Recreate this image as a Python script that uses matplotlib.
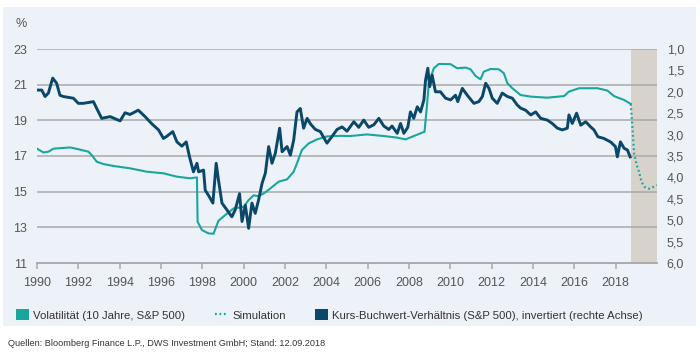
import matplotlib
matplotlib.use('Agg')
from matplotlib import pyplot as plt
from matplotlib.patches import Rectangle, Patch
from matplotlib.lines import Line2D

plt.rcParams['font.family'] = ['Liberation Sans', 'DejaVu Sans']

# Volatilitaet (10 Jahre, S&P 500), linke Achse in %
vol_years = [1990.0, 1990.31, 1990.55, 1990.79, 1991.6, 1992.0, 1992.49, 1992.65, 1992.89,
             1993.21, 1993.7, 1994.5, 1995.31, 1996.12, 1996.77, 1997.41, 1997.74, 1997.77,
             1997.98, 1998.3, 1998.54, 1998.67, 1998.78, 1999.11, 1999.51, 2000.0, 2000.24,
             2000.48, 2000.72, 2000.97, 2001.29, 2001.69, 2002.1, 2002.42, 2002.58, 2002.82,
             2003.15, 2003.55, 2004.03, 2004.68, 2005.16, 2005.97, 2006.78, 2007.43, 2007.83,
             2008.15, 2008.47, 2008.75, 2008.85, 2008.96, 2009.2, 2009.44, 2010.01, 2010.33,
             2010.74, 2010.98, 2011.22, 2011.46, 2011.62, 2011.95, 2012.35, 2012.59, 2012.76,
             2013.0, 2013.4, 2013.89, 2014.69, 2015.5, 2015.74, 2016.23, 2017.12, 2017.6,
             2017.92, 2018.41, 2018.73]
vol = [17.41, 17.2, 17.24, 17.41, 17.48, 17.38, 17.24, 17.05, 16.68,
       16.55, 16.44, 16.31, 16.12, 16.03, 15.84, 15.75, 15.8, 13.32,
       12.85, 12.66, 12.64, 13.03, 13.37, 13.69, 14.06, 14.15, 14.53,
       14.79, 14.75, 14.9, 15.18, 15.56, 15.69, 16.12, 16.59, 17.34,
       17.71, 17.93, 18.1, 18.13, 18.12, 18.21, 18.12, 18.03, 17.93,
       18.08, 18.23, 18.36, 19.58, 21.08, 21.92, 22.16, 22.15, 21.92,
       21.96, 21.86, 21.49, 21.3, 21.73, 21.88, 21.86, 21.64, 21.08,
       20.8, 20.42, 20.33, 20.27, 20.36, 20.61, 20.8, 20.8, 20.67,
       20.36, 20.14, 19.92]

# Simulation
sim_years = [2018.73, 2018.81, 2018.89, 2019.02, 2019.13, 2019.25, 2019.38, 2019.62, 2019.86, 2020.0]
sim = [19.92, 18.64, 17.15, 16.49, 16.12, 15.56, 15.28, 15.17, 15.28, 15.36]

# Kurs-Buchwert-Verhaeltnis (rechte Achse, invertiert)
kbv_years = [1990.0, 1990.23, 1990.39, 1990.55, 1990.76, 1990.95, 1991.11, 1991.27, 1991.76,
             1992.0, 1992.24, 1992.73, 1992.89, 1993.13, 1993.54, 1994.02, 1994.26, 1994.5,
             1994.9, 1995.23, 1995.56, 1995.88, 1996.12, 1996.28, 1996.57, 1996.77, 1997.01,
             1997.22, 1997.38, 1997.57, 1997.74, 1997.82, 1998.06, 1998.14, 1998.3, 1998.51,
             1998.67, 1998.78, 1998.95, 1999.19, 1999.43, 1999.59, 1999.8, 1999.92, 2000.08,
             2000.24, 2000.4, 2000.56, 2000.72, 2000.89, 2001.05, 2001.21, 2001.37, 2001.53,
             2001.74, 2001.86, 2002.1, 2002.26, 2002.42, 2002.58, 2002.74, 2002.9, 2003.07,
             2003.23, 2003.47, 2003.71, 2004.03, 2004.28, 2004.52, 2004.76, 2005.0, 2005.33,
             2005.57, 2005.81, 2006.05, 2006.3, 2006.54, 2006.78, 2007.02, 2007.18, 2007.43,
             2007.59, 2007.75, 2007.94, 2008.07, 2008.23, 2008.4, 2008.56, 2008.72, 2008.8,
             2008.91, 2009.0, 2009.12, 2009.28, 2009.52, 2009.77, 2010.01, 2010.25, 2010.36,
             2010.58, 2010.82, 2011.14, 2011.38, 2011.55, 2011.71, 2011.87, 2012.03, 2012.27,
             2012.51, 2012.76, 2013.0, 2013.24, 2013.4, 2013.64, 2013.89, 2014.13, 2014.37,
             2014.69, 2014.93, 2015.18, 2015.42, 2015.66, 2015.74, 2015.9, 2016.11, 2016.31,
             2016.55, 2016.79, 2016.95, 2017.14, 2017.43, 2017.75, 2017.99, 2018.08, 2018.23,
             2018.41, 2018.57, 2018.7]
kbv = [1.96, 1.96, 2.11, 2.03, 1.68, 1.80, 2.08, 2.11, 2.15,
       2.27, 2.27, 2.23, 2.39, 2.62, 2.58, 2.68, 2.49, 2.53,
       2.43, 2.58, 2.75, 2.89, 3.09, 3.04, 2.93, 3.17, 3.27,
       3.17, 3.52, 3.87, 3.67, 3.87, 3.83, 4.30, 4.42, 4.60,
       3.67, 4.06, 4.60, 4.76, 4.92, 4.76, 4.38, 5.03, 4.65,
       5.19, 4.60, 4.84, 4.53, 4.14, 3.90, 3.28, 3.67, 3.44,
       2.85, 3.40, 3.28, 3.48, 3.13, 2.47, 2.39, 2.85, 2.62,
       2.75, 2.88, 2.93, 3.20, 3.04, 2.88, 2.82, 2.92, 2.70,
       2.83, 2.66, 2.83, 2.77, 2.62, 2.80, 2.88, 2.80, 2.97,
       2.74, 2.97, 2.83, 2.47, 2.62, 2.35, 2.47, 2.19, 1.73,
       1.45, 1.88, 1.61, 2.00, 2.00, 2.15, 2.19, 2.08, 2.23,
       1.92, 2.08, 2.27, 2.23, 2.11, 1.80, 1.92, 2.15, 2.27,
       2.03, 2.11, 2.15, 2.31, 2.38, 2.43, 2.54, 2.47, 2.62,
       2.66, 2.74, 2.85, 2.89, 2.85, 2.54, 2.74, 2.50, 2.78,
       2.70, 2.82, 2.89, 3.05, 3.09, 3.17, 3.28, 3.52, 3.17,
       3.32, 3.36, 3.52]

sim_start = 2018.76
x_ticks = list(range(1990, 2019, 2))
left_ticks = [11, 13, 15, 17, 19, 21, 23]
right_ticks = [1.0, 1.5, 2.0, 2.5, 3.0, 3.5, 4.0, 4.5, 5.0, 5.5, 6.0]

teal = '#19a69c'
navy = '#0a4769'
panel = '#edf2f9'
grid_c = '#a9a9a9'
txt = '#555555'

fig = plt.figure(figsize=(7, 3.56), dpi=100)
bg = Rectangle((3/700, 1-326/356), 693/700, 319/356, transform=fig.transFigure,
               facecolor=panel, edgecolor='none', zorder=-10)
fig.add_artist(bg)

ax = fig.add_axes([37/700, 1-263/356, 620/700, 214/356])
ax.patch.set_alpha(0)
ax2 = ax.twinx()
ax2.patch.set_alpha(0)

ax.axvspan(sim_start, 2020.0, color='#d7d3ca', lw=0, zorder=0)
for v in left_ticks[1:]:
    ax.axhline(v, color=grid_c, lw=1.1, zorder=1)

ax.plot(vol_years, vol, color=teal, lw=1.5, zorder=3)
ax.plot(sim_years, sim, color=teal, lw=1.6, ls=(0, (0.8, 1.2)), zorder=3)
ax2.plot(kbv_years, kbv, color=navy, lw=2.1, zorder=3)

ax.set_xlim(1990, 2020)
ax.set_ylim(11, 23)
ax2.set_ylim(6, 1)

for a in (ax, ax2):
    for s in ('top', 'left', 'right'):
        a.spines[s].set_visible(False)
    a.spines['bottom'].set_color(grid_c)
    a.spines['bottom'].set_linewidth(1.1)

ax.set_xticks(x_ticks)
ax.set_xticklabels([str(t) for t in x_ticks])
ax.set_yticks(left_ticks)
ax.set_yticklabels([str(t) for t in left_ticks])
ax2.set_yticks(right_ticks)
ax2.set_yticklabels([('%.1f' % t).replace('.', ',') for t in right_ticks])

ax.tick_params(axis='x', direction='out', length=4, width=1.1, color=grid_c,
               labelsize=9, labelcolor=txt, pad=6)
ax.tick_params(axis='y', length=0, labelsize=9, labelcolor=txt, pad=7)
ax2.tick_params(axis='y', length=0, labelsize=9, labelcolor=txt, pad=7)

fig.text(21/700, 1-24/356, '%', ha='center', va='center', fontsize=9, color=txt)

handles = [Patch(facecolor=teal, edgecolor='none'),
           Line2D([0], [0], color=teal, lw=1.6, ls=(0, (0.8, 1.2))),
           Patch(facecolor=navy, edgecolor='none')]
labels = ['Volatilität (10 Jahre, S&P 500)', 'Simulation',
          'Kurs-Buchwert-Verhältnis (S&P 500), invertiert (rechte Achse)']
fig.legend(handles, labels, loc='center left', bbox_to_anchor=(6/700, 1-315/356),
           ncol=3, frameon=False, fontsize=8.2, handlelength=1.1, handleheight=1.1,
           handletextpad=0.4, columnspacing=2.6, labelcolor='#333333')

fig.text(8/700, 1-343/356,
         'Quellen: Bloomberg Finance L.P., DWS Investment GmbH; Stand: 12.09.2018',
         ha='left', va='center', fontsize=6.6, color='#333333')

fig.savefig('out.png', dpi=100, facecolor='white')
